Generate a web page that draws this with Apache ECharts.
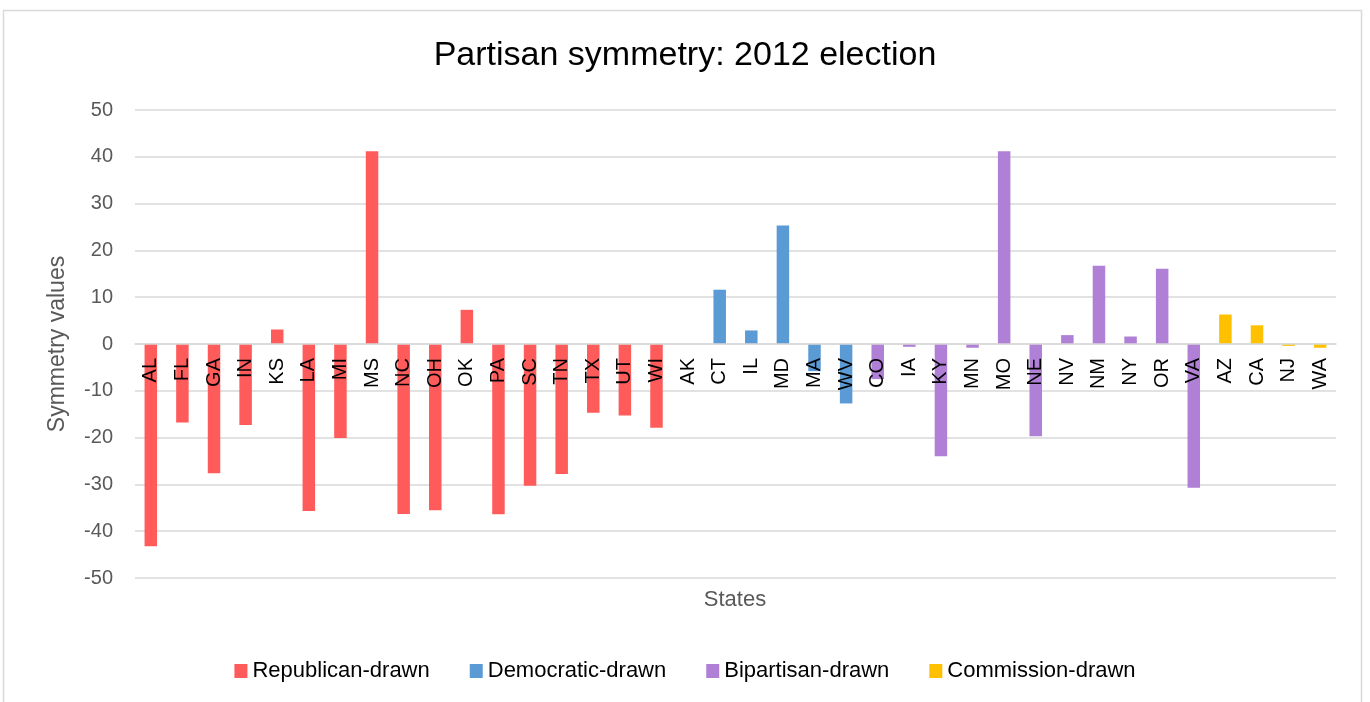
<!DOCTYPE html>
<html>
<head>
<meta charset="utf-8">
<script src="https://cdn.jsdelivr.net/npm/echarts@6/dist/echarts.min.js"></script>
<style>
  html, body { margin: 0; padding: 0; background: #fff; }
  #chart { width: 1370px; height: 702px; }
</style>
</head>
<body>
<div id="chart"></div>
<script>
var states = ['AL', 'FL', 'GA', 'IN', 'KS', 'LA', 'MI', 'MS', 'NC', 'OH', 'OK', 'PA', 'SC', 'TN', 'TX', 'UT', 'WI',
  'AK', 'CT', 'IL', 'MD', 'MA', 'WV',
  'CO', 'IA', 'KY', 'MN', 'MO', 'NE', 'NV', 'NM', 'NY', 'OR', 'VA',
  'AZ', 'CA', 'NJ', 'WA'];
var symmetry = [-43.2, -16.8, -27.6, -17.3, 3.1, -35.7, -20.1, 41.2, -36.3, -35.5, 7.3, -36.4, -30.3, -27.8, -14.7, -15.3, -17.9,
  0, 11.6, 2.9, 25.3, -5.8, -12.7,
  -7.5, -0.6, -24.0, -0.8, 41.2, -19.7, 1.9, 16.7, 1.6, 16.1, -30.7,
  6.3, 4.0, -0.4, -0.8];
var drawnBy = [0, 0, 0, 0, 0, 0, 0, 0, 0, 0, 0, 0, 0, 0, 0, 0, 0,
  1, 1, 1, 1, 1, 1,
  2, 2, 2, 2, 2, 2, 2, 2, 2, 2, 2,
  3, 3, 3, 3];
var groupNames = ['Republican-drawn', 'Democratic-drawn', 'Bipartisan-drawn', 'Commission-drawn'];
var groupColors = ['#FF5B5B', '#5B9BD5', '#B07FD6', '#FFC000'];
var yTicks = { min: -50, max: 50, interval: 10 };

var font = 'Liberation Sans, Arial, sans-serif';
var chart = echarts.init(document.getElementById('chart'), null, { renderer: 'canvas' });

// one series per drawing group so the legend gets four entries
var series = groupNames.map(function(name, g) {
  return {
    name: name,
    type: 'bar',
    stack: 'all',
    barWidth: 12.5,
    itemStyle: { color: groupColors[g] },
    data: symmetry.map(function(v, i) { return drawnBy[i] === g ? v : '-'; })
  };
});

chart.setOption({
  animation: false,
  backgroundColor: '#fff',
  textStyle: { fontFamily: font },
  title: {
    text: 'Partisan symmetry: 2012 election',
    left: 'center',
    top: 34,
    textStyle: { fontFamily: font, fontSize: 34, fontWeight: 'normal', color: '#000' }
  },
  graphic: [
    {
      type: 'rect',
      shape: { x: 3.5, y: 10.5, width: 1358, height: 720 },
      style: { fill: 'none', stroke: '#D9D9D9', lineWidth: 1.5 },
      silent: true
    },
    {
      type: 'text',
      x: 735,
      y: 600,
      style: { text: 'States', fontFamily: font, fontSize: 22, fill: '#595959', align: 'center', verticalAlign: 'middle' }
    }
  ],
  legend: {
    top: 655,
    left: 'center',
    icon: 'rect',
    itemWidth: 13,
    itemHeight: 14,
    itemGap: 40,
    textStyle: { fontFamily: font, fontSize: 22, color: '#000' },
    data: groupNames
  },
  grid: { left: 135, right: 34, top: 110, bottom: 124 },
  xAxis: {
    type: 'category',
    data: states,
    offset: -234,
    z: 10,
    axisLine: { onZero: false, lineStyle: { color: '#D9D9D9', width: 1.5 } },
    axisTick: { show: false },
    axisLabel: { rotate: 90, color: '#000', fontSize: 20, margin: 14, interval: 0 }
  },
  yAxis: {
    type: 'value',
    min: yTicks.min,
    max: yTicks.max,
    interval: yTicks.interval,
    name: 'Symmetry values',
    nameLocation: 'middle',
    nameGap: 66,
    nameTextStyle: { fontFamily: font, fontSize: 23, color: '#595959' },
    axisLine: { show: false },
    axisTick: { show: false },
    axisLabel: { color: '#595959', fontSize: 20, margin: 22 },
    splitLine: { lineStyle: { color: '#D9D9D9', width: 1.5 } }
  },
  series: series
});
</script>
</body>
</html>
